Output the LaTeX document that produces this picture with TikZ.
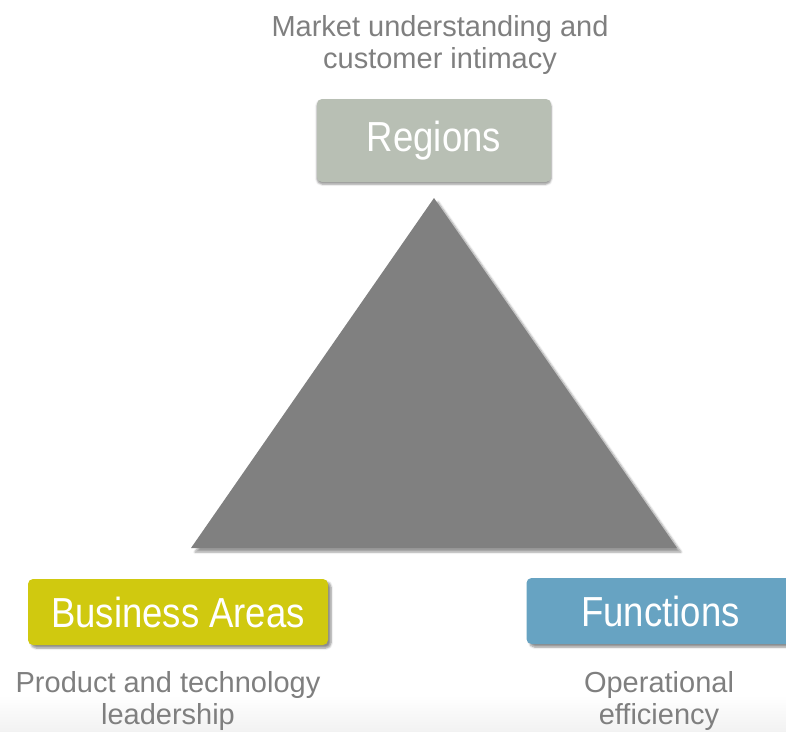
\documentclass[tikz,border=0pt]{standalone}
\usepackage{fontspec}
\setmainfont{Liberation Sans}
\newfontfamily\pillarfont{Liberation Sans}[FakeStretch=0.87]
\usetikzlibrary{shadows.blur}

\definecolor{regiongray}{HTML}{B8BFB4}
\definecolor{businessyellow}{HTML}{D0C90F}
\definecolor{functionblue}{HTML}{67A3C2}
\definecolor{pyramidgray}{HTML}{808080}
\definecolor{captiongray}{HTML}{7F7F7F}

\tikzset{
  pillar/.style={rounded corners=5pt, minimum height=66pt, inner sep=0pt, text=white,
    font=\pillarfont\fontsize{42}{46}\selectfont,
    blur shadow={shadow xshift=3pt, shadow yshift=-3pt, shadow blur steps=6, shadow opacity=45}},
  caption/.style={anchor=north, inner sep=0pt, align=center, text=captiongray,
    font=\fontsize{29}{32}\selectfont}
}

\begin{document}
\begin{tikzpicture}[x=1pt,y=-1pt]
\useasboundingbox (0,0) rectangle (786,731);

% faint floor under the captions
\shade[top color=white, bottom color=black!5] (0,695) rectangle (786,731);

% the triangle
\coordinate (apex) at (434,198);
\coordinate (left) at (191,548);
\coordinate (right) at (677,548);
\fill[pyramidgray, blur shadow={shadow xshift=4pt, shadow yshift=-4pt, shadow blur steps=6, shadow opacity=40}]
  (apex) -- (right) -- (left) -- cycle;

% the three corners
\node[pillar, fill=regiongray, minimum width=234pt, minimum height=83pt,
  blur shadow={shadow xshift=0pt, shadow yshift=-2pt, shadow blur steps=4, shadow opacity=25}]
  (regions) at (434,140.5) {Regions};
\node[pillar, fill=businessyellow, minimum width=300pt] (business) at (178,612) {Business Areas};
\node[pillar, fill=functionblue, minimum width=268pt] (functions) at (660.5,611) {Functions};

% what each corner stands for
\node[caption] (market) at (440,15) {Market understanding and\\customer intimacy};
\node[caption] (product) at (168,671) {Product and technology\\leadership};
\node[caption] (operational) at (659,671) {Operational\\efficiency};
\end{tikzpicture}
\end{document}
